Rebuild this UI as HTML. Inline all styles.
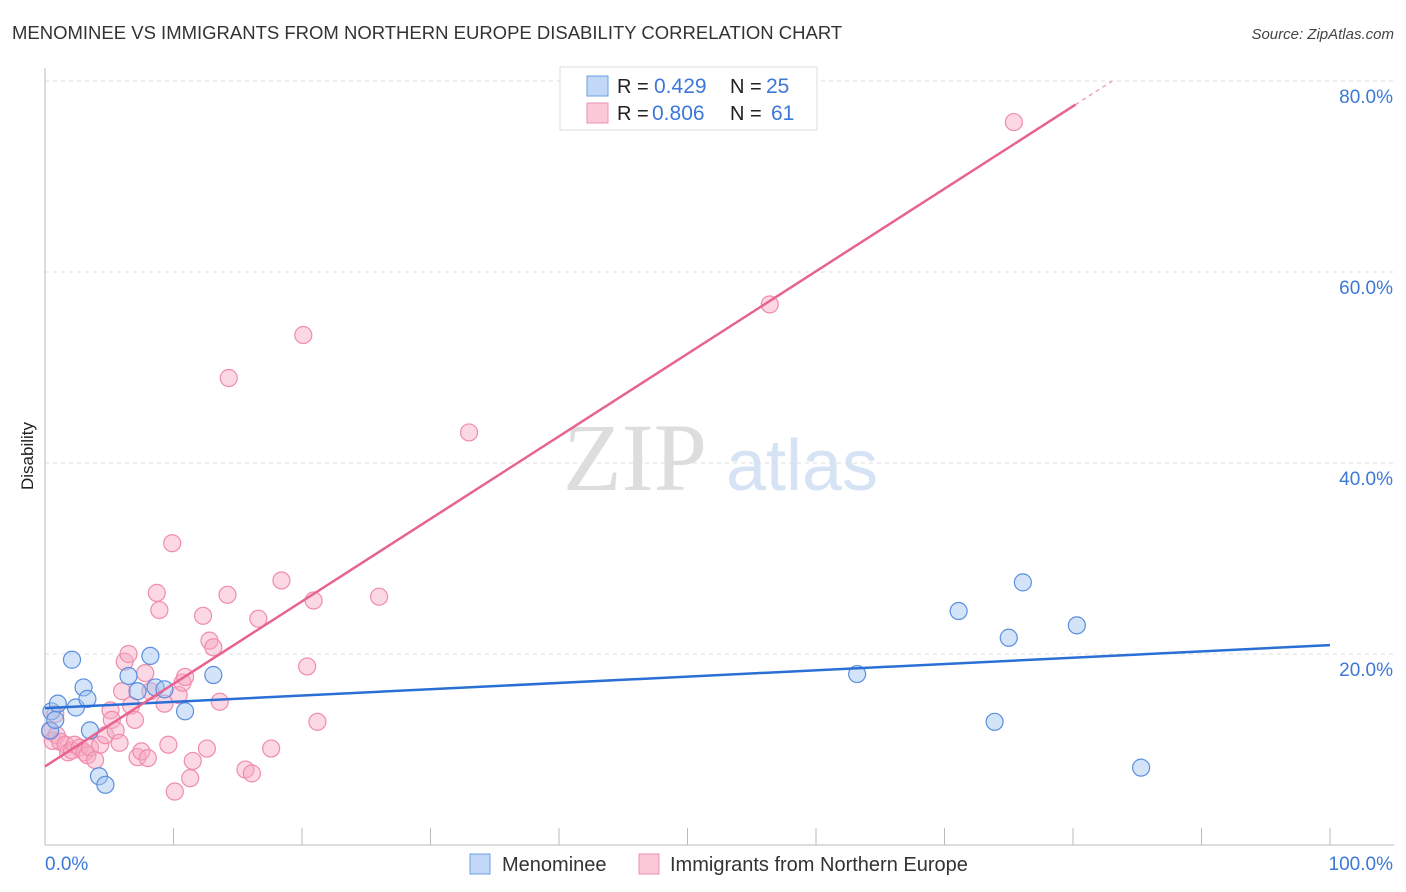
<!DOCTYPE html>
<html><head><meta charset="utf-8">
<style>
body{margin:0;background:#fff;font-family:"Liberation Sans",sans-serif;}
svg{display:block}
</style></head>
<body>
<svg id="chart" width="1406" height="892"></svg>
<script>
const blueX=[0.5,1,2.1,2.4,3,3.3,3.5,4.2,4.7,6.5,7.2,8.2,8.6,9.3,10.9,13.1,63.2,71.1,73.9,75,76.1,80.3,85.3,0.4,0.8];
const blueY=[14.0,14.8,19.4,14.4,16.5,15.3,12.0,7.2,6.3,17.7,16.1,19.8,16.5,16.3,14.0,17.8,17.9,24.5,12.9,21.7,27.5,23.0,8.1,12.0,13.1];
const pinkX=[0.4,0.6,0.9,1.2,1.6,1.8,2.1,2.3,2.7,3.1,3.3,3.5,3.9,4.3,4.7,5.1,5.2,5.5,5.8,6,6.2,6.5,6.7,7,7.2,7.5,7.8,8,8.2,8.7,8.9,9.3,9.6,9.9,10.1,10.4,10.7,10.9,11.3,11.5,12.3,12.6,12.8,13.1,13.6,14.2,14.3,15.6,16.1,16.6,17.6,18.4,20.1,20.4,20.9,21.2,26,33,56.4,75.4,0.8];
const pinkY=[11.9,10.9,11.5,10.8,10.5,9.7,9.9,10.5,10.2,9.7,9.4,10.2,8.9,10.5,11.5,14.1,13.1,12.0,10.7,16.1,19.2,20.0,14.6,13.1,9.2,9.8,18.0,9.1,16.1,26.4,24.6,14.8,10.5,31.6,5.6,15.7,17.0,17.6,7.0,8.8,24.0,10.1,21.4,20.7,15.0,26.2,48.9,7.9,7.5,23.7,10.1,27.7,53.4,18.7,25.6,12.9,26.0,43.2,56.6,75.7,13.7];
const yTicks=[20,40,60,80];
const yTickLabels=["20.0%","40.0%","60.0%","80.0%"];
const xLabels=["0.0%","100.0%"];
const rVals=["0.429","0.806"], nVals=["25","61"];

const svg=document.getElementById('chart');
const NS='http://www.w3.org/2000/svg';
const X=v=>45+v*12.85, Y=v=>845-v*9.55;
function el(t,a,p){const e=document.createElementNS(NS,t);for(const k in a)e.setAttribute(k,a[k]);(p||svg).appendChild(e);return e;}
function fit(xs,ys){const n=xs.length;let mx=0,my=0;for(let i=0;i<n;i++){mx+=xs[i];my+=ys[i];}mx/=n;my/=n;let sxy=0,sxx=0;for(let i=0;i<n;i++){sxy+=(xs[i]-mx)*(ys[i]-my);sxx+=(xs[i]-mx)**2;}const b=sxy/sxx;return [my-b*mx,b];}

let t=el('text',{x:12,y:39,'font-size':18.5,fill:'#333'});t.textContent='MENOMINEE VS IMMIGRANTS FROM NORTHERN EUROPE DISABILITY CORRELATION CHART';


t=el('text',{x:1394,y:39,'font-size':15,fill:'#444','font-style':'italic','text-anchor':'end'});t.textContent='Source: ZipAtlas.com';


t=el('text',{x:33,y:456,'font-size':17,fill:'#222','text-anchor':'middle',transform:'rotate(-90 33 456)'});t.textContent='Disability';


t=el('text',{x:635,y:490,'font-size':96,fill:'#ddd','font-family':'Liberation Serif','text-anchor':'middle'});t.textContent='ZIP';


t=el('text',{x:802,y:490,'font-size':72,fill:'#d5e3f5','text-anchor':'middle'});t.textContent='atlas';



yTicks.forEach((v,i)=>{
 let g=el('line',{x1:45,x2:1394,y1:Y(v),y2:Y(v),stroke:'#ddd','stroke-dasharray':'4,4'});
 
 
 let l=el('text',{x:1393,y:Y(v)+22,'font-size':19,fill:'#3c78d8','text-anchor':'end'});l.textContent=yTickLabels[i];
 
 
});
let ax=el('line',{x1:45,x2:45,y1:68,y2:845,stroke:'#bbb'});


ax=el('line',{x1:45,x2:1394,y1:845,y2:845,stroke:'#bbb'});


for(let i=0;i<=10;i++){let k=el('line',{x1:X(i*10),x2:X(i*10),y1:828,y2:845,stroke:'#bbb'});
 
 }
t=el('text',{x:45,y:870,'font-size':19,fill:'#3c78d8'});t.textContent=xLabels[0];


t=el('text',{x:1393,y:870,'font-size':19,fill:'#3c78d8','text-anchor':'end'});t.textContent=xLabels[1];



pinkX.forEach((v,i)=>{const c=el('circle',{cx:X(v),cy:Y(pinkY[i]),r:8.5,fill:'rgba(247,168,192,0.45)',stroke:'#f08cab','stroke-width':1.2});
 
 });
blueX.forEach((v,i)=>{const c=el('circle',{cx:X(v),cy:Y(blueY[i]),r:8.5,fill:'rgba(160,196,240,0.45)',stroke:'#5b8ee0','stroke-width':1.2});
 
 });

const bf=fit(blueX,blueY);
let ln=el('line',{x1:X(0),y1:Y(bf[0]),x2:X(100),y2:Y(bf[0]+100*bf[1]),stroke:'#2a6fd6','stroke-width':2.5});


const pf=fit(pinkX,pinkY);
const xe=80.2, xd=Math.min(100,(80-pf[0])/pf[1]);
ln=el('line',{x1:X(0),y1:Y(pf[0]),x2:X(xe),y2:Y(pf[0]+xe*pf[1]),stroke:'#e8638f','stroke-width':2.5});


ln=el('line',{x1:X(xe),y1:Y(pf[0]+xe*pf[1]),x2:X(xd),y2:Y(pf[0]+xd*pf[1]),stroke:'#f0a0b8','stroke-width':1.5,'stroke-dasharray':'4,4'});



let lg=el('rect',{x:560,y:67,width:257,height:63,fill:'#fff',stroke:'#ddd'});


[['#c2d8f7','#6d9de6'],['#fbc9d6','#ee93b0']].forEach((c,i)=>{
 const y=76+i*27;
 let s=el('rect',{x:587,y:y,width:21,height:20,fill:c[0],stroke:c[1]});
 
 
 let a=el('text',{x:617,y:y+17,'font-size':20,fill:'#222'});a.textContent='R = ';
 
 
 let b=el('text',{x:i?652:654,y:y+17,'font-size':21,fill:'#3c78d8'});b.textContent=rVals[i];
 
 
 let d=el('text',{x:730,y:y+17,'font-size':20,fill:'#222'});d.textContent=i?'N =  ':'N = ';
 
 
 let e=el('text',{x:i?771:766,y:y+17,'font-size':21,fill:'#3c78d8'});e.textContent=nVals[i];
 
 
});
[['#c2d8f7','#6d9de6','Menominee',470,502],['#fbc9d6','#ee93b0','Immigrants from Northern Europe',639,670]].forEach(c=>{
 let s=el('rect',{x:c[3],y:854,width:20,height:20,fill:c[0],stroke:c[1]});
 
 
 let a=el('text',{x:c[4],y:871,'font-size':20,fill:'#333'});a.textContent=c[2];
 
 
});
</script>
</body></html>
